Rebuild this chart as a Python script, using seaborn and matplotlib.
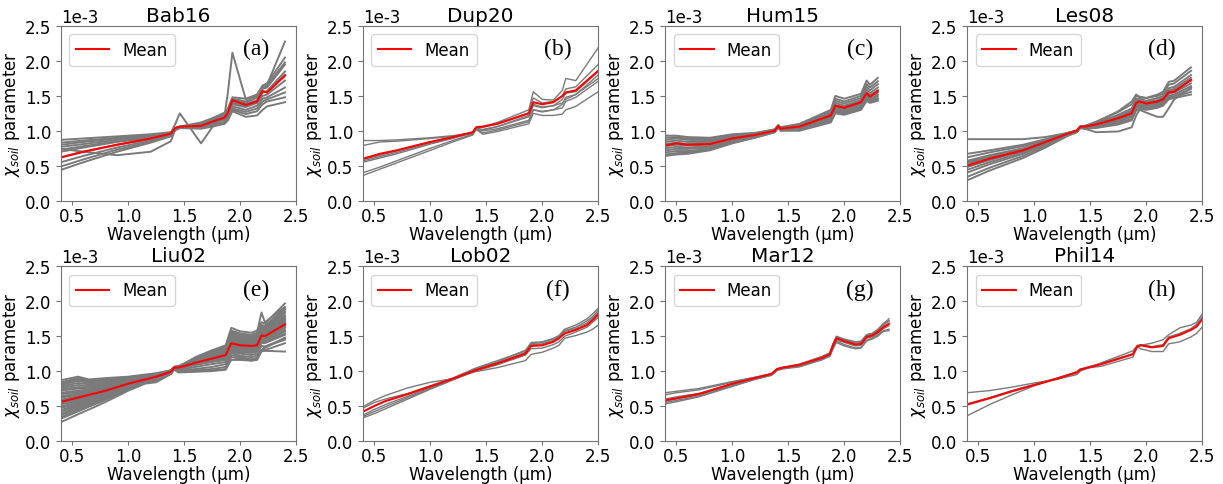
import numpy as np
import pandas as pd
import matplotlib
matplotlib.use("Agg")
import matplotlib.pyplot as plt
import seaborn as sns

# values, in units of 1e-3

# (a) Bab16
bab16_wl = [0.4, 0.6, 0.9, 1.2, 1.38, 1.42, 1.46, 1.65, 1.75, 1.86, 1.89, 1.93, 2.05, 2.15, 2.2, 2.24, 2.4]
bab16_mean = [0.62, 0.70, 0.80, 0.89, 0.96, 1.04, 1.06, 1.07, 1.13, 1.19, 1.26, 1.44, 1.37, 1.42, 1.57, 1.55, 1.79]
bab16_samples = [
    [0.87, 0.89, 0.92, 0.95, 0.98, 1.04, 1.06, 1.12, 1.18, 1.26, 1.32, 1.48, 1.46, 1.52, 1.65, 1.68, 2.05],
    [0.83, 0.86, 0.90, 0.94, 0.97, 1.04, 1.06, 1.10, 1.16, 1.24, 1.30, 1.46, 1.42, 1.48, 1.60, 1.62, 1.95],
    [0.77, 0.81, 0.87, 0.92, 0.96, 1.03, 1.05, 1.09, 1.14, 1.21, 1.27, 1.42, 1.38, 1.44, 1.55, 1.57, 1.85],
    [0.70, 0.76, 0.84, 0.90, 0.95, 1.03, 1.05, 1.08, 1.12, 1.18, 1.24, 1.38, 1.34, 1.40, 1.50, 1.52, 1.72],
    [0.62, 0.70, 0.80, 0.88, 0.95, 1.02, 1.05, 1.06, 1.10, 1.16, 1.22, 1.35, 1.30, 1.36, 1.46, 1.48, 1.62],
    [0.55, 0.64, 0.76, 0.86, 0.94, 1.02, 1.04, 1.05, 1.08, 1.13, 1.20, 1.32, 1.27, 1.32, 1.42, 1.45, 1.55],
    [0.49, 0.59, 0.73, 0.84, 0.93, 1.01, 1.04, 1.04, 1.07, 1.11, 1.18, 1.30, 1.24, 1.28, 1.38, 1.42, 1.48],
    [0.44, 0.55, 0.70, 0.83, 0.92, 1.01, 1.04, 1.03, 1.06, 1.10, 1.15, 1.28, 1.20, 1.22, 1.30, 1.35, 1.41],
    [0.73, 0.78, 0.85, 0.91, 0.96, 1.03, 1.06, 1.09, 1.15, 1.22, 1.55, 2.12, 1.45, 1.50, 1.62, 1.65, 1.98],
    [0.80, 0.84, 0.89, 0.93, 0.97, 1.10, 1.25, 0.82, 1.05, 1.22, 1.28, 1.45, 1.40, 1.48, 1.62, 1.66, 2.28],
    [0.74, 0.70, 0.65, 0.70, 0.85, 1.02, 1.05, 1.08, 1.13, 1.20, 1.26, 1.40, 1.36, 1.42, 1.55, 1.56, 1.80],
]

# (b) Dup20
dup20_wl = [0.4, 0.55, 0.7, 1.0, 1.2, 1.38, 1.41, 1.47, 1.6, 1.88, 1.92, 2.0, 2.1, 2.18, 2.21, 2.3, 2.5]
dup20_mean = [0.60, 0.67, 0.72, 0.84, 0.91, 0.98, 1.05, 1.06, 1.10, 1.25, 1.41, 1.38, 1.41, 1.50, 1.55, 1.58, 1.86]
dup20_samples = [
    [0.86, 0.86, 0.87, 0.90, 0.93, 0.97, 1.03, 1.02, 1.06, 1.22, 1.38, 1.34, 1.36, 1.45, 1.54, 1.56, 1.85],
    [0.79, 0.84, 0.85, 0.89, 0.92, 0.96, 1.03, 1.00, 1.03, 1.15, 1.30, 1.28, 1.30, 1.38, 1.48, 1.52, 1.75],
    [0.59, 0.65, 0.71, 0.84, 0.91, 0.98, 1.05, 1.06, 1.12, 1.30, 1.56, 1.45, 1.44, 1.58, 1.75, 1.72, 2.19],
    [0.55, 0.61, 0.67, 0.81, 0.89, 0.97, 1.04, 1.05, 1.10, 1.26, 1.47, 1.40, 1.42, 1.50, 1.60, 1.63, 1.95],
    [0.40, 0.48, 0.57, 0.75, 0.86, 0.95, 1.03, 0.97, 1.01, 1.13, 1.30, 1.27, 1.30, 1.33, 1.42, 1.48, 1.71],
    [0.36, 0.45, 0.54, 0.72, 0.84, 0.94, 1.02, 0.95, 0.99, 1.10, 1.25, 1.22, 1.22, 1.24, 1.30, 1.35, 1.56],
    [0.57, 0.63, 0.69, 0.82, 0.90, 0.97, 1.04, 1.01, 1.06, 1.20, 1.36, 1.33, 1.36, 1.40, 1.45, 1.52, 1.80],
]

# (c) Hum15
hum15_wl = [0.4, 0.5, 0.6, 0.8, 1.0, 1.2, 1.38, 1.41, 1.43, 1.6, 1.88, 1.92, 2.0, 2.15, 2.2, 2.23, 2.3]
hum15_mean = [0.79, 0.82, 0.80, 0.81, 0.89, 0.94, 1.00, 1.07, 1.03, 1.06, 1.22, 1.36, 1.33, 1.41, 1.54, 1.49, 1.57]
hum15_samples = [
    [0.93, 0.93, 0.91, 0.90, 0.95, 0.97, 1.02, 1.08, 1.05, 1.10, 1.30, 1.50, 1.46, 1.53, 1.72, 1.66, 1.76],
    [0.90, 0.91, 0.89, 0.88, 0.94, 0.96, 1.02, 1.08, 1.05, 1.09, 1.28, 1.46, 1.42, 1.50, 1.67, 1.62, 1.71],
    [0.87, 0.89, 0.87, 0.86, 0.92, 0.96, 1.01, 1.07, 1.04, 1.08, 1.26, 1.43, 1.39, 1.47, 1.63, 1.58, 1.67],
    [0.84, 0.86, 0.84, 0.84, 0.91, 0.95, 1.01, 1.07, 1.04, 1.07, 1.24, 1.40, 1.36, 1.44, 1.59, 1.54, 1.62],
    [0.81, 0.83, 0.81, 0.82, 0.90, 0.94, 1.00, 1.07, 1.03, 1.06, 1.23, 1.37, 1.34, 1.42, 1.55, 1.51, 1.58],
    [0.78, 0.80, 0.79, 0.80, 0.88, 0.93, 1.00, 1.06, 1.03, 1.05, 1.21, 1.35, 1.32, 1.39, 1.52, 1.48, 1.55],
    [0.75, 0.77, 0.76, 0.78, 0.87, 0.93, 0.99, 1.06, 1.02, 1.04, 1.19, 1.33, 1.30, 1.37, 1.50, 1.46, 1.52],
    [0.72, 0.74, 0.74, 0.76, 0.86, 0.92, 0.99, 1.06, 1.02, 1.03, 1.17, 1.31, 1.28, 1.35, 1.48, 1.44, 1.50],
    [0.69, 0.71, 0.71, 0.74, 0.84, 0.91, 0.99, 1.05, 1.01, 1.02, 1.15, 1.29, 1.26, 1.33, 1.46, 1.42, 1.47],
    [0.66, 0.68, 0.69, 0.73, 0.83, 0.90, 0.98, 1.05, 1.01, 1.01, 1.13, 1.27, 1.24, 1.31, 1.44, 1.41, 1.45],
    [0.64, 0.66, 0.67, 0.72, 0.82, 0.90, 0.98, 1.05, 1.00, 1.00, 1.12, 1.25, 1.23, 1.30, 1.43, 1.40, 1.43],
]

# (d) Les08
les08_wl = [0.4, 0.6, 0.9, 1.1, 1.3, 1.38, 1.41, 1.45, 1.55, 1.75, 1.87, 1.91, 1.94, 2.0, 2.1, 2.15, 2.2, 2.25, 2.4]
les08_mean = [0.50, 0.60, 0.72, 0.84, 0.96, 1.00, 1.06, 1.06, 1.09, 1.18, 1.25, 1.40, 1.42, 1.39, 1.42, 1.45, 1.55, 1.56, 1.73]
les08_samples = [
    [0.88, 0.88, 0.88, 0.91, 0.97, 1.00, 1.05, 1.06, 1.12, 1.28, 1.42, 1.52, 1.48, 1.47, 1.52, 1.56, 1.70, 1.72, 1.91],
    [0.67, 0.72, 0.80, 0.88, 0.97, 1.01, 1.06, 1.07, 1.13, 1.27, 1.38, 1.50, 1.49, 1.47, 1.50, 1.53, 1.66, 1.68, 1.86],
    [0.62, 0.69, 0.78, 0.87, 0.97, 1.00, 1.06, 1.07, 1.11, 1.23, 1.32, 1.46, 1.46, 1.43, 1.47, 1.50, 1.61, 1.63, 1.80],
    [0.57, 0.65, 0.75, 0.85, 0.96, 1.00, 1.06, 1.06, 1.10, 1.21, 1.29, 1.44, 1.44, 1.41, 1.44, 1.48, 1.58, 1.60, 1.76],
    [0.53, 0.62, 0.73, 0.84, 0.96, 1.00, 1.05, 1.06, 1.09, 1.19, 1.27, 1.41, 1.42, 1.39, 1.42, 1.46, 1.56, 1.58, 1.72],
    [0.48, 0.58, 0.71, 0.83, 0.95, 0.99, 1.05, 1.05, 1.08, 1.17, 1.24, 1.38, 1.39, 1.37, 1.40, 1.43, 1.53, 1.55, 1.68],
    [0.44, 0.55, 0.69, 0.82, 0.95, 0.99, 1.05, 1.05, 1.07, 1.15, 1.22, 1.36, 1.37, 1.35, 1.38, 1.41, 1.50, 1.52, 1.64],
    [0.40, 0.52, 0.67, 0.80, 0.94, 0.99, 1.04, 1.04, 1.06, 1.13, 1.20, 1.34, 1.35, 1.33, 1.36, 1.39, 1.48, 1.50, 1.60],
    [0.34, 0.47, 0.64, 0.78, 0.93, 0.98, 1.04, 1.04, 1.05, 1.11, 1.17, 1.31, 1.33, 1.31, 1.34, 1.37, 1.46, 1.48, 1.56],
    [0.29, 0.43, 0.61, 0.76, 0.93, 0.98, 1.04, 1.03, 1.04, 1.09, 1.15, 1.29, 1.31, 1.30, 1.33, 1.36, 1.45, 1.47, 1.52],
    [0.55, 0.63, 0.74, 0.85, 0.96, 1.00, 1.04, 1.03, 0.98, 0.99, 1.05, 1.22, 1.30, 1.26, 1.20, 1.20, 1.32, 1.45, 1.62],
]

# (e) Liu02
liu02_wl = [0.4, 0.55, 0.65, 0.8, 1.0, 1.15, 1.25, 1.38, 1.41, 1.45, 1.6, 1.75, 1.87, 1.92, 2.0, 2.1, 2.15, 2.19, 2.22, 2.4]
liu02_mean = [0.56, 0.62, 0.66, 0.72, 0.82, 0.88, 0.92, 0.99, 1.05, 1.05, 1.12, 1.18, 1.23, 1.40, 1.37, 1.36, 1.37, 1.51, 1.50, 1.67]
liu02_samples = [
    [0.87, 0.92, 0.88, 0.90, 0.92, 0.95, 0.97, 1.01, 1.05, 1.06, 1.20, 1.30, 1.37, 1.62, 1.57, 1.55, 1.58, 1.70, 1.68, 1.97],
    [0.84, 0.90, 0.86, 0.88, 0.91, 0.94, 0.96, 1.01, 1.06, 1.07, 1.19, 1.28, 1.35, 1.58, 1.54, 1.52, 1.55, 1.84, 1.70, 1.92],
    [0.82, 0.88, 0.85, 0.87, 0.90, 0.94, 0.96, 1.01, 1.06, 1.07, 1.18, 1.27, 1.34, 1.56, 1.52, 1.50, 1.53, 1.66, 1.65, 1.90],
    [0.80, 0.86, 0.83, 0.85, 0.89, 0.93, 0.96, 1.00, 1.06, 1.07, 1.17, 1.26, 1.32, 1.54, 1.50, 1.48, 1.51, 1.64, 1.63, 1.88],
    [0.78, 0.83, 0.81, 0.84, 0.88, 0.93, 0.95, 1.00, 1.06, 1.07, 1.16, 1.25, 1.31, 1.52, 1.48, 1.46, 1.49, 1.62, 1.61, 1.85],
    [0.76, 0.80, 0.79, 0.82, 0.88, 0.92, 0.95, 1.00, 1.06, 1.06, 1.16, 1.24, 1.30, 1.50, 1.47, 1.45, 1.48, 1.60, 1.60, 1.83],
    [0.74, 0.77, 0.77, 0.80, 0.87, 0.91, 0.95, 1.00, 1.05, 1.06, 1.15, 1.23, 1.29, 1.48, 1.45, 1.43, 1.46, 1.59, 1.58, 1.80],
    [0.72, 0.75, 0.76, 0.79, 0.86, 0.91, 0.95, 1.00, 1.05, 1.06, 1.15, 1.22, 1.28, 1.47, 1.44, 1.42, 1.45, 1.58, 1.57, 1.78],
    [0.69, 0.72, 0.74, 0.78, 0.85, 0.90, 0.94, 0.99, 1.05, 1.06, 1.14, 1.21, 1.27, 1.45, 1.42, 1.41, 1.43, 1.56, 1.55, 1.76],
    [0.67, 0.70, 0.72, 0.77, 0.85, 0.90, 0.94, 0.99, 1.05, 1.06, 1.14, 1.21, 1.26, 1.44, 1.41, 1.40, 1.42, 1.55, 1.54, 1.74],
    [0.64, 0.68, 0.70, 0.76, 0.84, 0.89, 0.93, 0.99, 1.05, 1.05, 1.13, 1.20, 1.25, 1.43, 1.40, 1.39, 1.40, 1.54, 1.53, 1.72],
    [0.62, 0.66, 0.69, 0.75, 0.83, 0.89, 0.93, 0.99, 1.05, 1.05, 1.13, 1.19, 1.24, 1.42, 1.39, 1.38, 1.39, 1.53, 1.52, 1.70],
    [0.59, 0.64, 0.67, 0.74, 0.83, 0.88, 0.92, 0.99, 1.05, 1.05, 1.12, 1.18, 1.23, 1.40, 1.37, 1.36, 1.38, 1.51, 1.50, 1.68],
    [0.57, 0.62, 0.66, 0.73, 0.82, 0.88, 0.92, 0.99, 1.05, 1.05, 1.12, 1.18, 1.22, 1.39, 1.36, 1.35, 1.37, 1.50, 1.49, 1.66],
    [0.54, 0.60, 0.64, 0.71, 0.81, 0.87, 0.91, 0.98, 1.04, 1.05, 1.11, 1.17, 1.21, 1.37, 1.34, 1.33, 1.35, 1.48, 1.47, 1.64],
    [0.52, 0.58, 0.63, 0.70, 0.80, 0.87, 0.91, 0.98, 1.04, 1.05, 1.11, 1.16, 1.20, 1.36, 1.33, 1.32, 1.34, 1.47, 1.46, 1.62],
    [0.49, 0.56, 0.61, 0.68, 0.79, 0.86, 0.90, 0.98, 1.04, 1.04, 1.10, 1.15, 1.19, 1.34, 1.31, 1.30, 1.32, 1.45, 1.44, 1.59],
    [0.47, 0.54, 0.59, 0.67, 0.78, 0.86, 0.90, 0.98, 1.04, 1.04, 1.10, 1.15, 1.18, 1.33, 1.30, 1.29, 1.31, 1.44, 1.43, 1.57],
    [0.44, 0.52, 0.57, 0.65, 0.77, 0.85, 0.89, 0.97, 1.04, 1.03, 1.09, 1.14, 1.17, 1.31, 1.28, 1.27, 1.29, 1.42, 1.41, 1.54],
    [0.42, 0.50, 0.55, 0.64, 0.77, 0.85, 0.89, 0.97, 1.04, 1.03, 1.09, 1.13, 1.16, 1.30, 1.27, 1.26, 1.28, 1.40, 1.40, 1.52],
    [0.39, 0.48, 0.53, 0.63, 0.76, 0.84, 0.88, 0.97, 1.03, 1.01, 1.06, 1.10, 1.13, 1.28, 1.25, 1.23, 1.25, 1.36, 1.35, 1.47],
    [0.37, 0.46, 0.52, 0.62, 0.75, 0.84, 0.88, 0.97, 1.03, 1.00, 1.03, 1.06, 1.10, 1.26, 1.22, 1.20, 1.22, 1.30, 1.29, 1.28],
    [0.34, 0.44, 0.50, 0.60, 0.74, 0.83, 0.86, 0.96, 1.03, 0.99, 1.01, 1.03, 1.06, 1.23, 1.20, 1.17, 1.19, 1.30, 1.33, 1.48],
    [0.32, 0.42, 0.49, 0.59, 0.73, 0.83, 0.85, 0.96, 1.03, 0.99, 1.00, 1.01, 1.03, 1.20, 1.18, 1.15, 1.17, 1.30, 1.35, 1.45],
    [0.27, 0.38, 0.45, 0.56, 0.72, 0.82, 0.84, 0.96, 1.02, 0.98, 0.99, 1.00, 1.02, 1.16, 1.16, 1.15, 1.16, 1.28, 1.30, 1.40],
]

# (f) Lob02
lob02_wl = [0.4, 0.5, 0.6, 0.8, 1.0, 1.2, 1.4, 1.6, 1.85, 1.9, 2.0, 2.1, 2.15, 2.2, 2.3, 2.4, 2.45, 2.5]
lob02_mean = [0.42, 0.50, 0.57, 0.67, 0.78, 0.89, 1.01, 1.11, 1.25, 1.36, 1.37, 1.42, 1.47, 1.54, 1.59, 1.66, 1.73, 1.81]
lob02_samples = [
    [0.49, 0.58, 0.65, 0.76, 0.84, 0.89, 0.99, 1.05, 1.15, 1.24, 1.27, 1.33, 1.37, 1.47, 1.51, 1.56, 1.60, 1.66],
    [0.47, 0.55, 0.60, 0.68, 0.79, 0.90, 1.04, 1.15, 1.29, 1.41, 1.42, 1.47, 1.51, 1.60, 1.66, 1.75, 1.82, 1.90],
    [0.35, 0.42, 0.49, 0.62, 0.75, 0.88, 1.03, 1.13, 1.30, 1.39, 1.41, 1.46, 1.50, 1.58, 1.63, 1.72, 1.78, 1.87],
    [0.33, 0.39, 0.46, 0.60, 0.74, 0.87, 1.00, 1.09, 1.23, 1.32, 1.33, 1.38, 1.42, 1.50, 1.56, 1.63, 1.70, 1.77],
    [0.37, 0.45, 0.52, 0.64, 0.76, 0.88, 1.02, 1.12, 1.27, 1.38, 1.39, 1.44, 1.49, 1.57, 1.61, 1.69, 1.76, 1.84],
]

# (g) Mar12
mar12_wl = [0.4, 0.5, 0.7, 1.0, 1.2, 1.35, 1.4, 1.45, 1.6, 1.8, 1.87, 1.9, 1.93, 2.0, 2.1, 2.15, 2.2, 2.25, 2.3, 2.35, 2.4]
mar12_mean = [0.58, 0.61, 0.67, 0.82, 0.90, 0.96, 1.03, 1.05, 1.09, 1.19, 1.24, 1.37, 1.47, 1.43, 1.38, 1.39, 1.49, 1.51, 1.56, 1.63, 1.68]
mar12_samples = [
    [0.69, 0.71, 0.75, 0.85, 0.91, 0.96, 1.03, 1.05, 1.09, 1.19, 1.24, 1.38, 1.48, 1.44, 1.40, 1.41, 1.51, 1.53, 1.58, 1.66, 1.72],
    [0.66, 0.69, 0.73, 0.84, 0.91, 0.96, 1.03, 1.05, 1.09, 1.20, 1.25, 1.39, 1.49, 1.45, 1.41, 1.42, 1.52, 1.54, 1.59, 1.68, 1.75],
    [0.60, 0.63, 0.68, 0.81, 0.89, 0.95, 1.02, 1.05, 1.10, 1.21, 1.26, 1.38, 1.50, 1.46, 1.42, 1.43, 1.52, 1.54, 1.60, 1.68, 1.72],
    [0.57, 0.60, 0.66, 0.80, 0.89, 0.95, 1.02, 1.04, 1.08, 1.18, 1.23, 1.35, 1.45, 1.41, 1.36, 1.37, 1.47, 1.49, 1.54, 1.61, 1.65],
    [0.55, 0.58, 0.64, 0.79, 0.88, 0.94, 1.01, 1.04, 1.07, 1.17, 1.22, 1.33, 1.43, 1.38, 1.33, 1.34, 1.44, 1.47, 1.52, 1.58, 1.60],
    [0.53, 0.56, 0.63, 0.78, 0.88, 0.94, 1.01, 1.03, 1.06, 1.16, 1.21, 1.32, 1.41, 1.36, 1.32, 1.33, 1.43, 1.46, 1.50, 1.57, 1.58],
]

# (h) Phil14
phil14_wl = [0.4, 0.6, 0.8, 1.0, 1.2, 1.38, 1.41, 1.6, 1.88, 1.92, 1.95, 2.05, 2.15, 2.2, 2.3, 2.4, 2.45, 2.5]
phil14_mean = [0.52, 0.61, 0.71, 0.80, 0.89, 0.98, 1.02, 1.10, 1.24, 1.35, 1.37, 1.34, 1.36, 1.47, 1.52, 1.59, 1.64, 1.74]
phil14_samples = [
    [0.69, 0.72, 0.77, 0.83, 0.88, 0.95, 1.00, 1.12, 1.29, 1.37, 1.37, 1.40, 1.45, 1.52, 1.62, 1.66, 1.70, 1.82],
    [0.36, 0.52, 0.66, 0.79, 0.89, 0.99, 1.03, 1.07, 1.20, 1.35, 1.32, 1.28, 1.28, 1.39, 1.42, 1.49, 1.54, 1.63],
    [0.53, 0.62, 0.72, 0.81, 0.90, 0.99, 1.03, 1.11, 1.25, 1.36, 1.38, 1.35, 1.38, 1.49, 1.54, 1.61, 1.67, 1.78],
]

panels = [
    ("Bab16", "(a)", bab16_wl, bab16_mean, bab16_samples),
    ("Dup20", "(b)", dup20_wl, dup20_mean, dup20_samples),
    ("Hum15", "(c)", hum15_wl, hum15_mean, hum15_samples),
    ("Les08", "(d)", les08_wl, les08_mean, les08_samples),
    ("Liu02", "(e)", liu02_wl, liu02_mean, liu02_samples),
    ("Lob02", "(f)", lob02_wl, lob02_mean, lob02_samples),
    ("Mar12", "(g)", mar12_wl, mar12_mean, mar12_samples),
    ("Phil14", "(h)", phil14_wl, phil14_mean, phil14_samples),
]

plt.rcParams["font.size"] = 12
plt.rcParams["axes.unicode_minus"] = False

fig, axes = plt.subplots(2, 4, figsize=(12.23, 4.85), dpi=100)
fig.subplots_adjust(left=0.05, right=0.983, bottom=0.089, top=0.944,
                    wspace=0.285, hspace=0.378)

for ax, (name, tag, wl, mean, samples) in zip(axes.flat, panels):
    rows = []
    for i, s in enumerate(samples):
        for w, v in zip(wl, s):
            rows.append((i, w, v * 1e-3))
    df = pd.DataFrame(rows, columns=["sample", "wl", "chi"])
    lw = 1.4 if len(samples) > 10 else 1.0
    sns.lineplot(data=df, x="wl", y="chi", units="sample", estimator=None,
                 color="#7a7a7a", lw=lw, ax=ax, legend=False)
    sns.lineplot(x=wl, y=np.array(mean) * 1e-3, color="red", lw=1.5,
                 ax=ax, label="Mean")

    ax.set_xlim(0.4, 2.5)
    ax.set_ylim(0, 2.5e-3)
    ax.set_xticks([0.5, 1.0, 1.5, 2.0, 2.5])
    ax.set_yticks(np.arange(0, 2.51e-3, 0.5e-3))
    ax.ticklabel_format(axis="y", style="sci", scilimits=(0, 0))
    ax.set_xlabel("Wavelength (µm)", labelpad=0)
    ax.set_ylabel(r"$\chi_{soil}$ parameter", labelpad=2)
    ax.set_title(name, pad=4)
    ax.text(0.83, 0.87, tag, transform=ax.transAxes, ha="center", va="center",
            fontsize=17, family="Liberation Serif")
    ax.legend(loc="upper left")
    for sp in ax.spines.values():
        sp.set_color("0.45")
    ax.tick_params(color="0.45")
    ax.tick_params(axis="x", length=3, pad=1.5)

fig.savefig("out.png", dpi=100)
